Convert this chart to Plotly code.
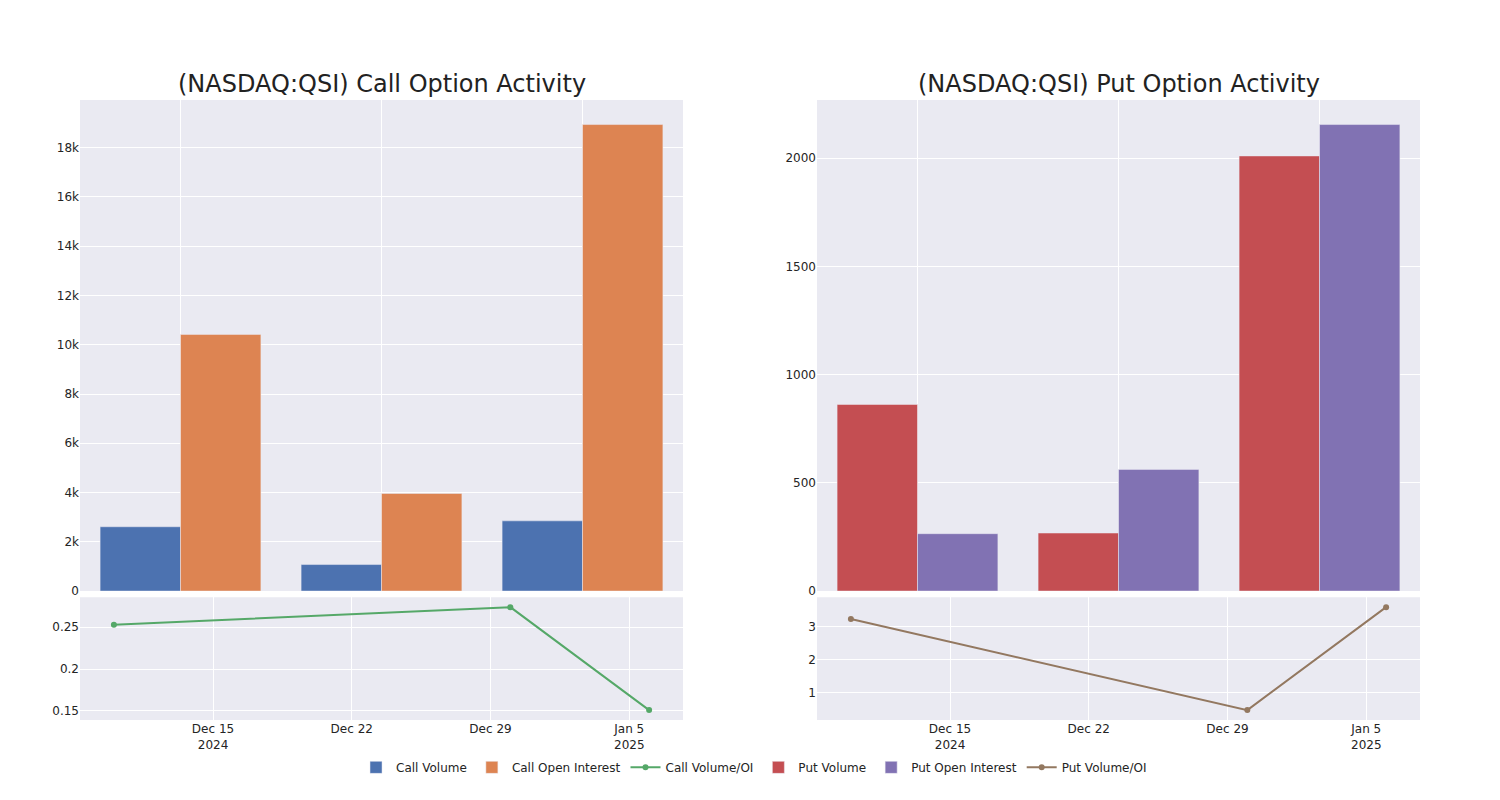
import plotly.graph_objects as go
from plotly.subplots import make_subplots

categories = ["2024-12-10", "2024-12-30", "2025-01-06"]
dates = ["2024-12-10", "2024-12-30", "2025-01-06"]

call_volume = [2610, 1075, 2850]
call_oi = [10420, 3960, 18940]
call_ratio = [0.253, 0.274, 0.151]

put_volume = [862, 268, 2010]
put_oi = [265, 562, 2155]
put_ratio = [3.24, 0.48, 3.6]

fig = make_subplots(
    rows=2, cols=2,
    row_heights=[0.8, 0.2],
    vertical_spacing=0.01,
    horizontal_spacing=0.1,
    subplot_titles=["(NASDAQ:QSI) Call Option Activity", "(NASDAQ:QSI) Put Option Activity", "", ""],
)

fig.add_trace(go.Bar(x=categories, y=call_volume, name="Call Volume", marker_color="#4C72B0"), row=1, col=1)
fig.add_trace(go.Bar(x=categories, y=call_oi, name="Call Open Interest", marker_color="#DD8452"), row=1, col=1)
fig.add_trace(go.Scatter(x=dates, y=call_ratio, name="Call Volume/OI", mode="lines+markers",
                         line=dict(color="#55A868"), marker=dict(color="#55A868")), row=2, col=1)

fig.add_trace(go.Bar(x=categories, y=put_volume, name="Put Volume", marker_color="#C44E52"), row=1, col=2)
fig.add_trace(go.Bar(x=categories, y=put_oi, name="Put Open Interest", marker_color="#8172B3"), row=1, col=2)
fig.add_trace(go.Scatter(x=dates, y=put_ratio, name="Put Volume/OI", mode="lines+markers",
                         line=dict(color="#937860"), marker=dict(color="#937860")), row=2, col=2)

fig.update_xaxes(type="category", showticklabels=False, row=1, col=1)
fig.update_xaxes(type="category", showticklabels=False, row=1, col=2)
fig.update_xaxes(type="date", row=2, col=1)
fig.update_xaxes(type="date", row=2, col=2)

fig.update_layout(
    template="seaborn",
    width=1500, height=800,
    margin=dict(l=80, r=80, t=100, b=80),
    barmode="group",
    font=dict(family="DejaVu Sans"),
    legend=dict(orientation="h", x=0.503, xanchor="center", y=-0.053, yanchor="top"),
)
for ann in fig.layout.annotations:
    ann.font = dict(size=24, family="DejaVu Sans", color="#222")

fig.write_html("out.html")
